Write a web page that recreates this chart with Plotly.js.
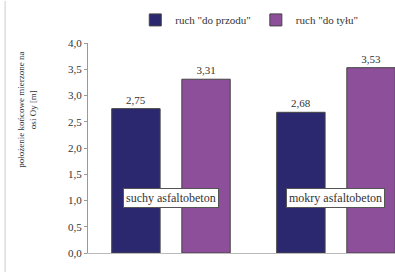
<!DOCTYPE html>
<html><head><meta charset="utf-8">
<script src="https://cdn.plot.ly/plotly-3.0.1.min.js"></script>
<style>html,body{margin:0;padding:0;background:#fff;}#chart{width:395px;height:272px;}</style>
</head><body><div id="chart"></div>
<script>
var categories = ["suchy asfaltobeton", "mokry asfaltobeton"];
var seriesNames = ['ruch "do przodu"', 'ruch "do tyłu"'];
var forwardValues = [2.75, 2.68];
var backwardValues = [3.31, 3.53];
var yTitleLines = ["położenie końcowe mierzone na", "osi Oy [m]"];

var fontFam = "Liberation Serif, Times New Roman, serif";
var colors = ["#2c2870", "#8d4f99"];
var vals = [forwardValues, backwardValues];

var traces = vals.map(function(v, i){
  return {
    type: "bar", x: categories, y: v, name: seriesNames[i],
    marker: {color: colors[i], line: {color: "#444", width: 1}},
    text: v.map(function(d){ return d.toFixed(2).replace(".", ","); }),
    textposition: "outside", cliponaxis: false,
    textfont: {family: fontFam, size: 11, color: "#333"},
    hoverinfo: "none"
  };
});

var annotations = categories.map(function(c){
  return {x: c, y: 1.05, xref: "x", yref: "y", text: c, showarrow: false,
    font: {family: fontFam, size: 12, color: "#333"},
    bgcolor: "#fff", bordercolor: "#555", borderwidth: 1, borderpad: 2};
});
annotations.push({xref: "paper", yref: "paper", x: -0.197, y: 0.68, xanchor: "center", yanchor: "middle",
  text: yTitleLines.join("<br>"),
  textangle: -90, showarrow: false, font: {family: fontFam, size: 9, color: "#333"}});

var layout = {
  width: 395, height: 272,
  margin: {l: 88, r: 0, t: 43, b: 19},
  paper_bgcolor: "#fff", plot_bgcolor: "#fff",
  separators: ", ",
  barmode: "group", bargap: 0.15, bargroupgap: 0.31,
  font: {family: fontFam, size: 10, color: "#333"},
  showlegend: true,
  legend: {orientation: "h", x: 0.154, y: 1.11, xanchor: "left", yanchor: "middle",
    font: {family: fontFam, size: 11, color: "#333"}, itemwidth: 30, bgcolor: "rgba(0,0,0,0)"},
  xaxis: {type: "category", range: [-0.503, 1.358], showticklabels: false, ticks: "",
    showline: true, linecolor: "#bbb", linewidth: 1, showgrid: false, zeroline: false, fixedrange: true},
  yaxis: {range: [0, 4], dtick: 0.5, tickformat: ".1f", ticks: "outside", ticklen: 3,
    tickcolor: "#999", showline: true, linecolor: "#999", linewidth: 1, showgrid: false,
    zeroline: false, tickfont: {family: fontFam, size: 11, color: "#333"}},
  annotations: annotations,
  shapes: [{type: "line", xref: "paper", yref: "paper", x0: -0.27, x1: -0.27, y0: -0.1, y1: 1.2,
    line: {color: "#ccc", width: 1}}]
};

Plotly.newPlot("chart", traces, layout, {staticPlot: true});
</script></body></html>
